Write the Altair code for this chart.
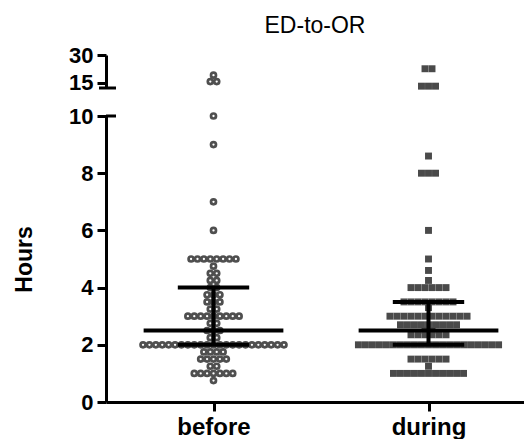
import altair as alt
import pandas as pd

groups = ["before", "during"]
group_pos = [1, 2]

# value (hours) and how many points sit at that value
before_values = [19, 15.5, 10, 9, 7, 6, 5, 4.75, 4.5, 4.25, 4, 3.75, 3.5, 3.25, 3, 2.75, 2.5, 2.25, 2, 1.75, 1.5, 1.25, 1, 0.75]
before_counts = [1, 2, 1, 1, 1, 1, 8, 1, 2, 2, 2, 3, 3, 2, 9, 2, 3, 2, 23, 4, 5, 2, 7, 1]

during_values = [22.5, 13, 8.6, 8, 6, 5, 4.6, 4.25, 4, 3.5, 3.3, 3, 2.7, 2.5, 2.35, 2, 1.5, 1.25, 1]
during_counts = [2, 3, 1, 3, 1, 1, 1, 1, 6, 8, 1, 12, 9, 2, 6, 21, 6, 1, 11]

# median and interquartile range per group
median = [2.5, 2.5]
q1 = [2.0, 2.0]
q3 = [4.0, 3.5]

rows = []
for g, gi, vals, cnts in [(groups[0], group_pos[0], before_values, before_counts),
                          (groups[1], group_pos[1], during_values, during_counts)]:
    for v, c in zip(vals, cnts):
        for _ in range(c):
            rows.append({"group": g, "gi": gi, "hours": v})
pts = pd.DataFrame(rows)
stats = pd.DataFrame({"group": groups, "gi": group_pos, "median": median, "q1": q1, "q3": q3})

FONT = "Liberation Sans"
W = 418
xscale = alt.Scale(domain=[0.5, 0.5 + W / 215], nice=False, zero=False)
lower_x_axis = alt.Axis(values=group_pos, labelExpr="datum.value == 1 ? 'before' : 'during'",
                        title=None, grid=False, tickSize=9, tickWidth=3, domainWidth=3,
                        labelFontSize=24, labelFontWeight="bold", labelPadding=4,
                        labelFont=FONT, labelColor="black", domainColor="black", tickColor="black")


def swarm(base):
    return (base
            .transform_window(rank="row_number()", groupby=["gi", "hours"])
            .transform_joinaggregate(n="count()", groupby=["gi", "hours"])
            .transform_calculate(xpos="datum.gi + (datum.rank - 1 - (datum.n - 1) / 2) * (datum.gi == 1 ? 0.0298 : 0.0326)"))


def panel(filter_expr, yscale, yaxis, xaxis, extra):
    base = swarm(alt.Chart(pts).transform_filter(filter_expr))
    y = alt.Y("hours:Q", scale=yscale, axis=yaxis)
    circ = base.transform_filter("datum.gi == 1").mark_point(
        shape="circle", filled=False, size=25, strokeWidth=2.7, color="#4f4f4f", opacity=1
    ).encode(x=alt.X("xpos:Q", scale=xscale, axis=xaxis), y=y)
    sq = base.transform_filter("datum.gi == 2").mark_square(
        size=48, color="#4a4a4a", opacity=1
    ).encode(x=alt.X("xpos:Q", scale=xscale, axis=xaxis), y=y)
    return alt.layer(circ, sq, *extra)


upper_yscale = alt.Scale(domain=[12, 30], nice=False, zero=False)
upper_yaxis = alt.Axis(values=[15, 30], title=None, grid=False, tickSize=9, tickWidth=3, domainWidth=3,
                       labelFontSize=22, labelFontWeight="bold", labelPadding=4, labelFont=FONT,
                       labelColor="black", domainColor="black", tickColor="black")
upper_cap = alt.Chart(stats.head(1)).mark_rule(color="black", strokeWidth=3).encode(
    x=alt.X(datum=0.5 - 7 / 215, scale=xscale, axis=None), x2=alt.X2(datum=0.5 + 10 / 215),
    y=alt.Y(datum=12, scale=upper_yscale, axis=upper_yaxis))
upper = panel("datum.hours > 10.5", upper_yscale, upper_yaxis, None, [upper_cap]).properties(
    width=W, height=33,
    title=alt.Title("ED-to-OR", fontSize=23, fontWeight="normal", font=FONT, frame="group",
                    anchor="middle", offset=6, color="black"))

lower_yscale = alt.Scale(domain=[0, 10], nice=False, zero=True)
lower_yaxis = alt.Axis(values=[0, 2, 4, 6, 8, 10], title="Hours", grid=False, tickSize=9, tickWidth=3,
                       domainWidth=3, labelFontSize=22, labelFontWeight="bold", labelPadding=4,
                       labelFont=FONT, labelColor="black", domainColor="black", tickColor="black",
                       titleFontSize=23, titleFontWeight="bold", titleFont=FONT, titleColor="black",
                       titlePadding=32)

sbase = alt.Chart(stats).transform_calculate(
    m_lo="datum.gi - 0.325", m_hi="datum.gi + 0.325",
    c_lo="datum.gi - 0.166", c_hi="datum.gi + 0.166")
med = sbase.mark_rule(color="black", strokeWidth=4).encode(
    x=alt.X("m_lo:Q", scale=xscale, axis=lower_x_axis), x2="m_hi:Q",
    y=alt.Y("median:Q", scale=lower_yscale, axis=lower_yaxis))
cap_hi = sbase.mark_rule(color="black", strokeWidth=4).encode(
    x=alt.X("c_lo:Q", scale=xscale, axis=lower_x_axis), x2="c_hi:Q",
    y=alt.Y("q3:Q", scale=lower_yscale, axis=lower_yaxis))
cap_lo = sbase.mark_rule(color="black", strokeWidth=4).encode(
    x=alt.X("c_lo:Q", scale=xscale, axis=lower_x_axis), x2="c_hi:Q",
    y=alt.Y("q1:Q", scale=lower_yscale, axis=lower_yaxis))
vert = sbase.mark_rule(color="black", strokeWidth=4).encode(
    x=alt.X("gi:Q", scale=xscale, axis=lower_x_axis),
    y=alt.Y("q1:Q", scale=lower_yscale, axis=lower_yaxis), y2="q3:Q")
lower_cap = alt.Chart(stats.head(1)).mark_rule(color="black", strokeWidth=3).encode(
    x=alt.X(datum=0.5, scale=xscale, axis=lower_x_axis), x2=alt.X2(datum=0.5 + 10 / 215),
    y=alt.Y(datum=10, scale=lower_yscale, axis=lower_yaxis))

lower = panel("datum.hours <= 10.5", lower_yscale, lower_yaxis, lower_x_axis,
              [med, cap_hi, cap_lo, vert, lower_cap]).properties(width=W, height=286)

chart = alt.vconcat(upper, lower, spacing=11).properties(
    padding={"left": 5, "top": 7, "right": 0, "bottom": 0},
    background="white"
).configure_view(stroke="transparent", strokeWidth=0)

chart.save("out.html", embed_options={"renderer": "svg", "actions": False})
